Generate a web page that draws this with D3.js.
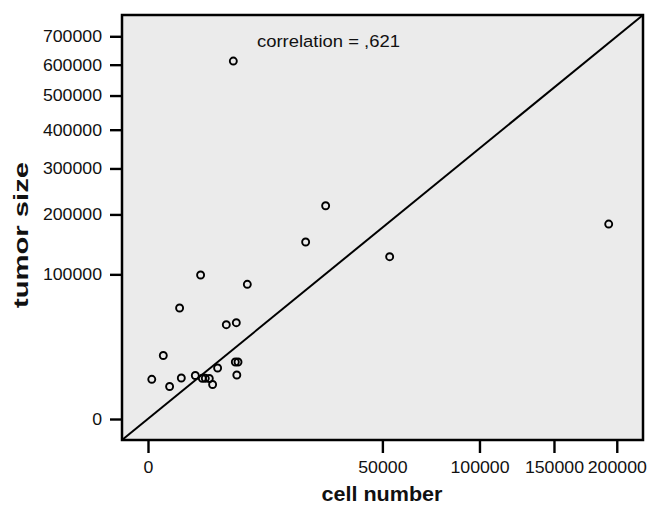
<!DOCTYPE html>
<html>
<head>
<meta charset="utf-8">
<script src="https://cdn.jsdelivr.net/npm/d3@7"></script>
<style>
  html, body { margin: 0; padding: 0; background: #fff; }
  svg text { font-family: "Liberation Sans", Arial, sans-serif; fill: #111; }
</style>
</head>
<body>
<svg id="chart" width="655" height="506"></svg>
<script>
// Data
const cellNumber = [13, 213, 425, 909, 1010, 2037, 2519, 2684, 2989, 3421, 3800, 4411, 5582, 7099, 6939, 7375, 7180, 8978, 6625, 22620, 28720, 53150, 193170];
const tumorSize  = [7530, 19270, 5050, 58870, 8030, 9040, 99090, 7915, 7915, 7836, 5687, 12430, 42480, 44310, 15520, 15520, 9250, 86680, 612300, 149700, 217370, 125850, 181660];
const xTicks = [0, 50000, 100000, 150000, 200000];
const yTicks = [0, 100000, 200000, 300000, 400000, 500000, 600000, 700000];
const xTitle = "cell number";
const yTitle = "tumor size";
const annotation = "correlation = ,621";

(function () {
const svg = d3.select("#chart");
const pLeft = 122, pRight = 643, pTop = 15, pBottom = 440;

const x = d3.scaleSqrt().domain([-615, 223000]).range([pLeft, pRight]);
const y = d3.scaleSqrt().domain([-2107, 780000]).range([pBottom, pTop]);

// plot background
svg.append("rect")
  .attr("x", pLeft).attr("y", pTop)
  .attr("width", pRight - pLeft).attr("height", pBottom - pTop)
  .attr("fill", "#ebebeb");

// diagonal reference line (corner to corner of the plot area)
svg.append("line")
  .attr("x1", x(x.domain()[0])).attr("y1", y(y.domain()[0]))
  .attr("x2", x(x.domain()[1])).attr("y2", y(y.domain()[1]))
  .attr("stroke", "#000").attr("stroke-width", 2);

// points
svg.append("g").selectAll("circle")
  .data(cellNumber.map((c, i) => [c, tumorSize[i]]))
  .join("circle")
  .attr("cx", d => x(d[0]))
  .attr("cy", d => y(d[1]))
  .attr("r", 3.5)
  .attr("fill", "none")
  .attr("stroke", "#000")
  .attr("stroke-width", 1.9);

// frame
svg.append("rect")
  .attr("x", pLeft).attr("y", pTop)
  .attr("width", pRight - pLeft).attr("height", pBottom - pTop)
  .attr("fill", "none").attr("stroke", "#000").attr("stroke-width", 2.5);

// axes
const fmt = d3.format("d");
const xAxis = d3.axisBottom(x).tickValues(xTicks).tickFormat(fmt).tickSize(13).tickPadding(8);
const yAxis = d3.axisLeft(y).tickValues(yTicks).tickFormat(fmt).tickSize(11).tickPadding(8);

const gx = svg.append("g").attr("transform", `translate(0,${pBottom})`).call(xAxis);
const gy = svg.append("g").attr("transform", `translate(${pLeft - 1},0)`).call(yAxis);
[gx, gy].forEach(g => {
  g.select(".domain").remove();
  g.selectAll(".tick line").attr("stroke", "#000").attr("stroke-width", 2.4);
  g.selectAll(".tick text").attr("fill", "#1a1a1a").style("font-size", "17px")
    .style("font-family", "'Liberation Sans', Arial, sans-serif")
    .attr("textLength", d => 9.85 * fmt(d).length)
    .attr("lengthAdjust", "spacingAndGlyphs");
});
gx.selectAll(".tick text").attr("dy", "0.71em");

// axis titles
svg.append("text")
  .attr("x", 382).attr("y", 501)
  .attr("text-anchor", "middle")
  .attr("textLength", 121).attr("lengthAdjust", "spacingAndGlyphs")
  .style("font-size", "19.5px").style("font-weight", "bold")
  .text(xTitle);

svg.append("text")
  .attr("transform", "translate(28,235) rotate(-90)")
  .attr("text-anchor", "middle")
  .attr("textLength", 146).attr("lengthAdjust", "spacingAndGlyphs")
  .style("font-size", "20.5px").style("font-weight", "bold")
  .text(yTitle);

// annotation
svg.append("text")
  .attr("x", 257).attr("y", 47)
  .attr("textLength", 143).attr("lengthAdjust", "spacingAndGlyphs")
  .style("font-size", "16.3px")
  .text(annotation);
})();
</script>
</body>
</html>
